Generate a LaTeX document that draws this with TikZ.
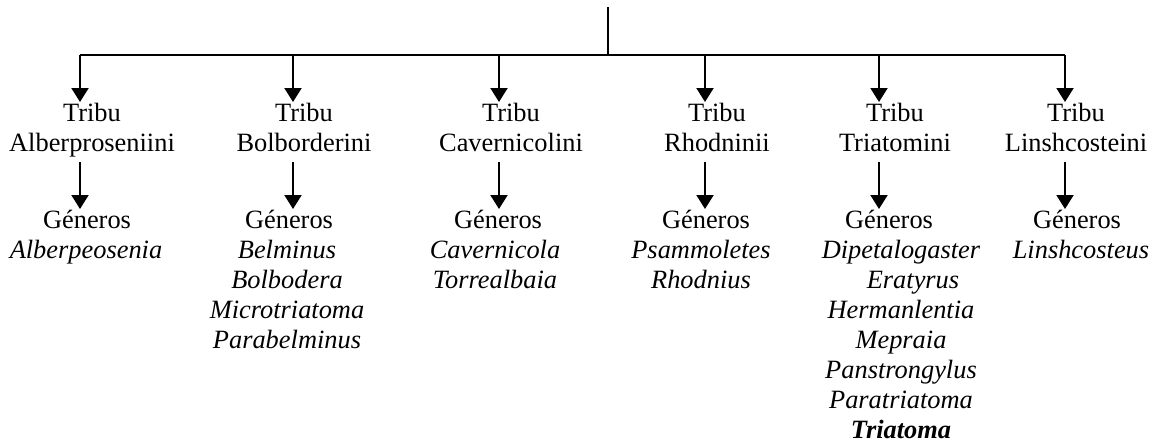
\documentclass[tikz,border=0pt]{standalone}
\usepackage{fontspec}
\setmainfont{Liberation Serif}
\usetikzlibrary{arrows.meta}

\begin{document}
\begin{tikzpicture}[x=0.5pt, y=-0.5pt, line width=1pt, >={Triangle[width=8.5pt,length=7pt]},
   every node/.style={font=\fontsize{13.2}{15}\selectfont, inner sep=0pt, anchor=north, align=center},
   genus/.style={font=\fontsize{13.2}{15}\selectfont\itshape}]
   \useasboundingbox (0,0) rectangle (1156,445);
   % tribus
   \node (t_1) at (92,102)   {Tribu\\Alberproseniini};
   \node (t_2) at (304,102)  {Tribu\\Bolborderini};
   \node (t_3) at (511,102)  {Tribu\\Cavernicolini};
   \node (t_4) at (717,102)  {Tribu\\Rhodninii};
   \node (t_5) at (895,102)  {Tribu\\Triatomini};
   \node (t_6) at (1076,102) {Tribu\\Linshcosteini};
   % generos
   \node (g_1) at (87,209)   {Géneros};
   \node (g_2) at (289,209)  {Géneros};
   \node (g_3) at (498,209)  {Géneros};
   \node (g_4) at (706,209)  {Géneros};
   \node (g_5) at (889,209)  {Géneros};
   \node (g_6) at (1077,209) {Géneros};
   \node[genus] (l_1) at (86,239)   {Alberpeosenia};
   \node[genus] (l_2) at (287,239)  {Belminus\\Bolbodera\\Microtriatoma\\Parabelminus};
   \node[genus] (l_3) at (495,239)  {Cavernicola\\Torrealbaia};
   \node[genus] (l_4) at (701,239)  {Psammoletes\\Rhodnius};
   \node[genus] (l_5) at (901,239)  {Dipetalogaster\\\hspace*{12pt}Eratyrus\\Hermanlentia\\Mepraia\\Panstrongylus\\Paratriatoma\\\textbf{Triatoma}};
   \node[genus] (l_6) at (1081,239) {Linshcosteus};
   % lineas
   \coordinate (top) at (608,7);
   \coordinate (d_1) at (80,55);
   \coordinate (d_2) at (293,55);
   \coordinate (d_3) at (499,55);
   \coordinate (d_4) at (705,55);
   \coordinate (d_5) at (879,55);
   \coordinate (d_6) at (1065,55);
   \draw (top) -- (top |- d_1);
   \draw (d_1) -- (d_6);
   \draw[->] (d_1) -- (d_1 |- t_1.north);
   \draw[->] (d_2) -- (d_2 |- t_2.north);
   \draw[->] (d_3) -- (d_3 |- t_3.north);
   \draw[->] (d_4) -- (d_4 |- t_4.north);
   \draw[->] (d_5) -- (d_5 |- t_5.north);
   \draw[->] (d_6) -- (d_6 |- t_6.north);
   \draw[->] ([yshift=-30pt]t_1.north -| d_1) -- (d_1 |- g_1.north);
   \draw[->] ([yshift=-30pt]t_2.north -| d_2) -- (d_2 |- g_2.north);
   \draw[->] ([yshift=-30pt]t_3.north -| d_3) -- (d_3 |- g_3.north);
   \draw[->] ([yshift=-30pt]t_4.north -| d_4) -- (d_4 |- g_4.north);
   \draw[->] ([yshift=-30pt]t_5.north -| d_5) -- (d_5 |- g_5.north);
   \draw[->] ([yshift=-30pt]t_6.north -| d_6) -- (d_6 |- g_6.north);
\end{tikzpicture}
\end{document}
